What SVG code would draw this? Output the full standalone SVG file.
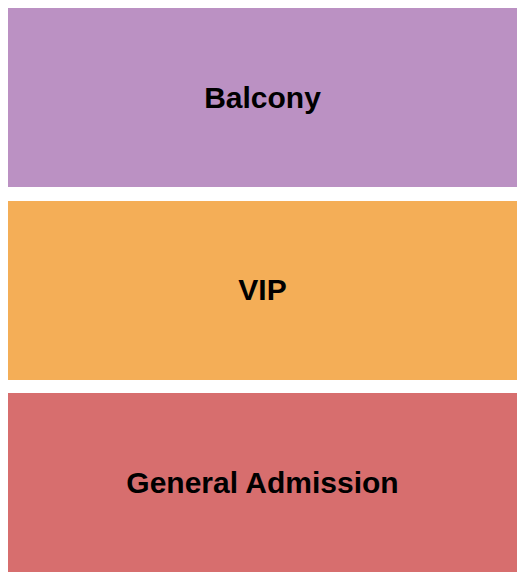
<svg xmlns="http://www.w3.org/2000/svg" width="525" height="580" viewBox="0 0 525 580">
<style>
.lbl{font-family:"Liberation Sans",Arial,sans-serif;font-weight:bold;font-size:30px;fill:#000;text-anchor:middle}
</style>
<rect width="525" height="580" fill="#fff"/>
<g id="balcony"><rect x="8" y="8" width="509" height="179" fill="#BB91C3"/><text class="lbl" x="262.5" y="108">Balcony</text></g>
<g id="vip"><rect x="8" y="201" width="509" height="179" fill="#F4AE57"/><text class="lbl" x="262.5" y="300">VIP</text></g>
<g id="ga"><rect x="8" y="393" width="509" height="179" fill="#D76E6E"/><text class="lbl" x="262.5" y="493">General Admission</text></g>
<g id="connectors"/>
</svg>
